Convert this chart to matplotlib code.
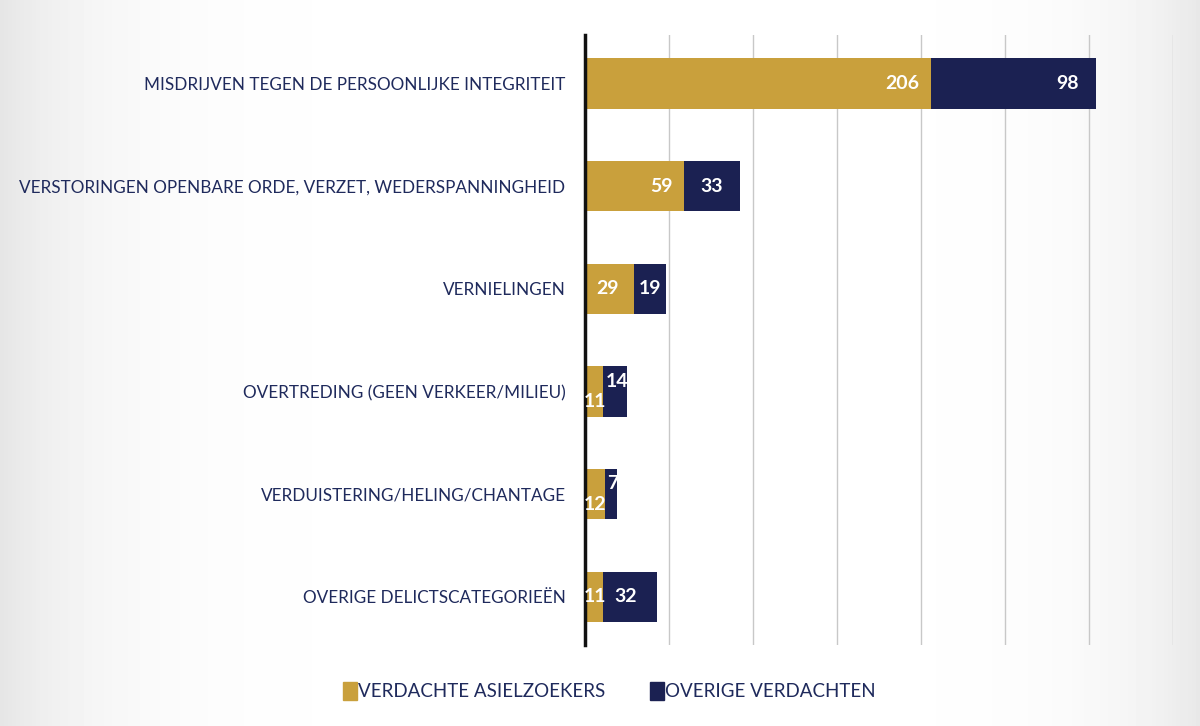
import numpy as np
import matplotlib.pyplot as plt
from matplotlib.patches import Patch

plt.rcParams['font.family'] = ['Lato', 'DejaVu Sans']

categories = ['MISDRIJVEN TEGEN DE PERSOONLIJKE INTEGRITEIT',
              'VERSTORINGEN OPENBARE ORDE, VERZET, WEDERSPANNINGHEID',
              'VERNIELINGEN',
              'OVERTREDING (GEEN VERKEER/MILIEU)',
              'VERDUISTERING/HELING/CHANTAGE',
              'OVERIGE DELICTSCATEGORIEËN']
asielzoekers = [206, 59, 29, 11, 12, 11]
overige = [98, 33, 19, 14, 7, 32]
series_names = ['VERDACHTE ASIELZOEKERS', 'OVERIGE VERDACHTEN']

gold = '#C9A03C'
navy = '#1B2152'
textc = '#1F2A5C'

fig = plt.figure(figsize=(12, 7.26), dpi=100)

# scanned-paper background: grey towards the edges
bg = fig.add_axes([0, 0, 1, 1], zorder=-10)
xx = np.linspace(0, 1, 300)
shade = 1 - 0.10 * np.exp(-xx / 0.08) - 0.09 * np.exp(-(1 - xx) / 0.07)
bg.imshow(np.tile(shade, (10, 1)), cmap='gray', vmin=0, vmax=1,
          aspect='auto', extent=[0, 1, 0, 1])
bg.axis('off')

ax = fig.add_axes([0.4875, 0.1116, 0.49, 0.840])
ax.patch.set_alpha(0)
y = np.arange(len(categories))
ax.barh(y, asielzoekers, height=0.49, color=gold, zorder=3)
ax.barh(y, overige, left=asielzoekers, height=0.49, color=navy, zorder=3)

ax.set_xlim(0, 350)
ax.set_ylim(len(categories) - 0.53, -0.47)
ax.set_xticks(np.arange(0, 351, 50))
ax.xaxis.grid(True, color='#c8c8c8', lw=1)
ax.tick_params(axis='x', length=0, labelbottom=False)
ax.set_yticks(y)
ax.set_yticklabels(categories, fontsize=12.3, color=textc)
ax.tick_params(axis='y', length=0, pad=14)
for s in ['top', 'right', 'bottom']:
    ax.spines[s].set_visible(False)
ax.spines['left'].set_linewidth(2.5)
ax.spines['left'].set_color('#111111')
ax.spines['left'].set_zorder(5)

lab = dict(color='white', fontsize=14, fontweight='bold', zorder=6)
for i, (a, o) in enumerate(zip(asielzoekers, overige)):
    if i == 0:
        ax.text(a - 7, i, str(a), ha='right', va='center', **lab)
        ax.text(a + o - 10, i, str(o), ha='right', va='center', **lab)
    elif i == 1:
        ax.text(a - 7, i, str(a), ha='right', va='center', **lab)
        ax.text(a + o / 2, i, str(o), ha='center', va='center', **lab)
    elif i == 2:
        ax.text(a / 2 - 1, i, str(a), ha='center', va='center', **lab)
        ax.text(a + o / 2, i, str(o), ha='center', va='center', **lab)
    elif i == 5:
        ax.text(-1, i, str(a), ha='left', va='center', **lab)
        ax.text(a + o / 2 - 3, i, str(o), ha='center', va='center', **lab)
    else:
        ax.text(-1, i + 0.1, str(a), ha='left', va='center', **lab)
        ax.text(a + o / 2 + 1, i - 0.1, str(o), ha='center', va='center', **lab)

handles = [Patch(color=gold), Patch(color=navy)]
fig.legend(handles, series_names, loc='center', bbox_to_anchor=(0.508, 0.048),
           ncol=2, frameon=False, fontsize=13.5, handlelength=0.75,
           handleheight=1.1, handletextpad=0.05, columnspacing=2.4,
           labelcolor=textc)

fig.savefig('out.png', dpi=100)
